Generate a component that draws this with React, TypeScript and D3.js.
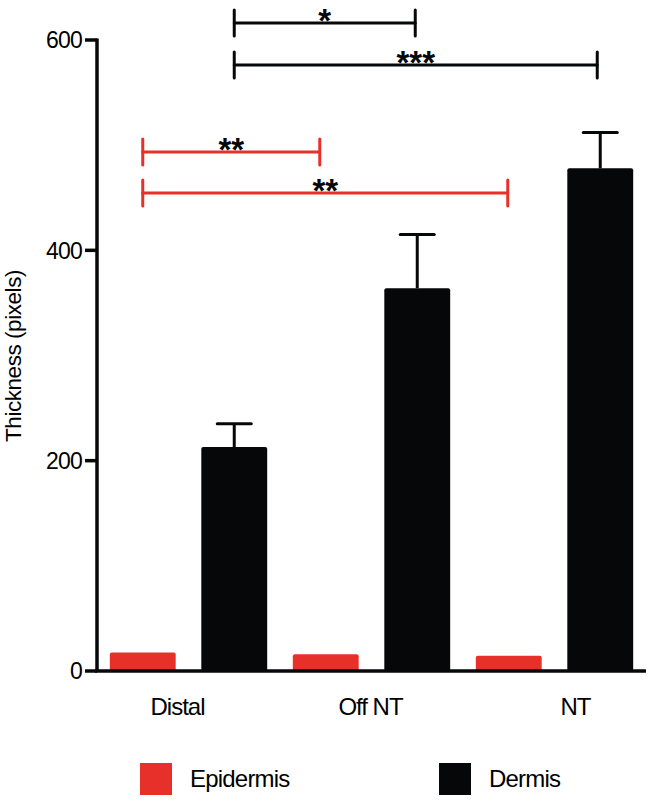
import React from "react";
import * as d3 from "d3";

const categories = ["Distal", "Off NT", "NT"];
const seriesNames = ["Epidermis", "Dermis"];
const epidermisMeans = [17.5, 16, 14.5];
const epidermisSem = [0, 0, 0];
const dermisMeans = [213, 364, 478];
const dermisSem = [22, 51, 34];
const yTicks = [0, 200, 400, 600];
// significance brackets: series, from category, to category, label
const bracketSeries = ["Dermis", "Dermis", "Epidermis", "Epidermis"];
const bracketFrom = [0, 0, 0, 0];
const bracketTo = [1, 2, 1, 2];
const bracketLabels = ["*", "***", "**", "**"];

const W = 652;
const H = 802;
const RED = "#e8302a";
const BLACK = "#050708";
const FONT = "'Liberation Sans', Arial, Helvetica, sans-serif";

const layout = {
  x0: 97,
  x1: 646,
  yTop: 40,
  yBottom: 671,
  labelDx: [-11, -1, 21],
  bracketY: [23, 65, 152, 193],
  bracketEndDx: [-2, -3, -6, -1],
};

export default function App() {
  const y = d3.scaleLinear().domain([0, 600]).range([layout.yBottom, layout.yTop]);
  const xGroup = d3
    .scaleBand<number>()
    .domain(d3.range(categories.length))
    .range([layout.x0, layout.x1])
    .paddingInner(0)
    .paddingOuter(0);
  const xSeries = d3
    .scaleBand<string>()
    .domain(seriesNames)
    .range([0, xGroup.bandwidth()])
    .paddingInner(0.28)
    .paddingOuter(0.14);
  const bw = xSeries.bandwidth();
  const means: Record<string, number[]> = { Epidermis: epidermisMeans, Dermis: dermisMeans };
  const sems: Record<string, number[]> = { Epidermis: epidermisSem, Dermis: dermisSem };
  const colors: Record<string, string> = { Epidermis: RED, Dermis: BLACK };
  const barCenter = (s: string, i: number) => (xGroup(i) as number) + (xSeries(s) as number) + bw / 2;

  return (
    <svg
      width={W}
      height={H}
      style={{ position: "absolute", left: 0, top: 0, background: "#fff" }}
      fontFamily={FONT}
    >
      {seriesNames.map((s) =>
        means[s].map((v, i) => {
          const x = (xGroup(i) as number) + (xSeries(s) as number);
          return (
            <g key={s + i}>
              {sems[s][i] > 0 && (
                <g stroke={BLACK} strokeWidth={3}>
                  <line x1={x + bw / 2} x2={x + bw / 2} y1={y(v)} y2={y(v + sems[s][i])} />
                  <line
                    x1={x + bw / 2 - 17}
                    x2={x + bw / 2 + 17}
                    y1={y(v + sems[s][i])}
                    y2={y(v + sems[s][i])}
                    strokeLinecap="round"
                  />
                </g>
              )}
              <rect x={x} y={y(v)} width={bw} height={y(0) - y(v)} fill={colors[s]} rx={2} />
            </g>
          );
        })
      )}
      <line x1={layout.x0} x2={layout.x0} y1={y(600) - 1.5} y2={y(0)} stroke={BLACK} strokeWidth={3.5} />
      {yTicks.map((t) => (
        <g key={t}>
          <line x1={layout.x0 - 12} x2={layout.x0} y1={y(t)} y2={y(t)} stroke={BLACK} strokeWidth={3.5} />
          <text x={layout.x0 - 15} y={y(t)} dy="0.36em" textAnchor="end" fontSize={23} letterSpacing={-0.8} fill="#000">
            {t}
          </text>
        </g>
      ))}
      <line x1={layout.x0 - 2} x2={layout.x1} y1={y(0)} y2={y(0)} stroke={BLACK} strokeWidth={3.5} />
      {categories.map((c, i) => (
        <text
          key={c}
          x={(xGroup(i) as number) + xGroup.bandwidth() / 2 + layout.labelDx[i]}
          y={715}
          textAnchor="middle"
          fontSize={24}
          letterSpacing={-1}
          fill="#000"
        >
          {c}
        </text>
      ))}
      <text
        transform={`translate(21,356) rotate(-90)`}
        textAnchor="middle"
        fontSize={22.5}
        letterSpacing={-0.45}
        fill="#000"
      >
        Thickness (pixels)
      </text>
      {bracketLabels.map((lab, k) => {
        const s = bracketSeries[k];
        const xa = barCenter(s, bracketFrom[k]);
        const xb = barCenter(s, bracketTo[k]) + layout.bracketEndDx[k];
        const yy = layout.bracketY[k];
        const col = colors[s];
        return (
          <g key={k}>
            <g stroke={col} strokeWidth={3} strokeLinecap="round">
              <line x1={xa} x2={xb} y1={yy} y2={yy} />
              <line x1={xa} x2={xa} y1={yy - 13} y2={yy + 13} />
              <line x1={xb} x2={xb} y1={yy - 13} y2={yy + 13} />
            </g>
            <text x={(xa + xb) / 2} y={yy + 9} textAnchor="middle" fontSize={33} fontWeight="bold" fill={BLACK}>
              {lab}
            </text>
          </g>
        );
      })}
      {seriesNames.map((s, i) => {
        const lx = [140, 439][i];
        return (
          <g key={s}>
            <rect x={lx} y={763} width={32} height={32} fill={colors[s]} />
            <text x={lx + 50} y={787} fontSize={24} letterSpacing={-0.8} fill="#000">
              {s}
            </text>
          </g>
        );
      })}
    </svg>
  );
}
